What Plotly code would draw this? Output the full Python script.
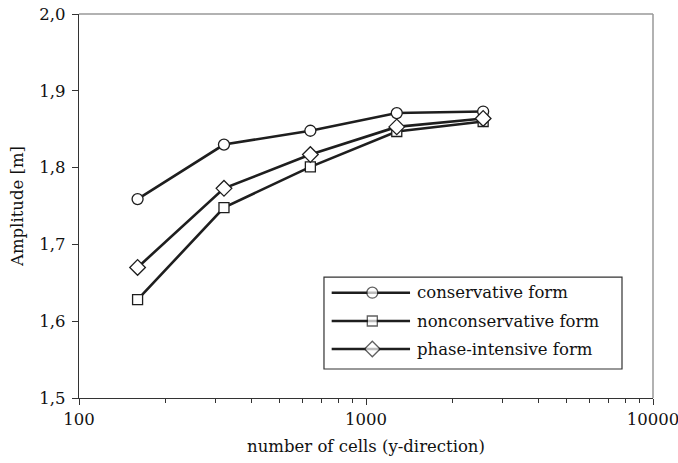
import plotly.graph_objects as go

# grid resolution (cells in y-direction)
cells = [160, 320, 640, 1280, 2560]

# wave amplitude [m] for each discretisation form
conservative = [1.759, 1.830, 1.848, 1.871, 1.873]
nonconservative = [1.628, 1.748, 1.801, 1.847, 1.860]
phase_intensive = [1.670, 1.773, 1.817, 1.853, 1.864]

series_names = ["conservative form", "nonconservative form", "phase-intensive form"]
series_values = [conservative, nonconservative, phase_intensive]
symbols = ["circle", "square", "diamond"]
marker_sizes = [11, 10, 12]

y_ticks = [1.5, 1.6, 1.7, 1.8, 1.9, 2.0]
y_ticktext = ["1,5", "1,6", "1,7", "1,8", "1,9", "2,0"]
x_ticks = [100, 1000, 10000]
x_ticktext = ["100", "1000", "10000"]
x_minor = [200, 300, 400, 500, 600, 700, 800, 900,
           2000, 3000, 4000, 5000, 6000, 7000, 8000, 9000]

INK = "#1e1e1e"
FONT = dict(family="DejaVu Serif", size=16.5, color="#111")

fig = go.Figure()

for name, vals, sym, ms in zip(series_names, series_values, symbols, marker_sizes):
    fig.add_trace(go.Scatter(
        x=cells, y=vals, mode="lines+markers", name=name,
        line=dict(color=INK, width=2.6),
        marker=dict(symbol=sym, size=ms, color="white",
                    line=dict(color=INK, width=1.3)),
        showlegend=False,
    ))

# legend box drawn on an overlay axis spanning the plot area
box_x0, box_x1, box_y0, box_y1 = 0.4268, 0.946, 0.0755, 0.315
row_y = [0.2742, 0.2005, 0.1276]
sample_x = [0.4402, 0.5110, 0.5767]
text_x = 0.585

for name, sym, ms, ry in zip(series_names, symbols, marker_sizes, row_y):
    fig.add_trace(go.Scatter(
        x=sample_x, y=[ry] * 3, xaxis="x2", yaxis="y2",
        mode="lines+markers", showlegend=False, hoverinfo="skip",
        line=dict(color=INK, width=2.6),
        marker=dict(symbol=sym, size=[0, ms, 0], color="white",
                    line=dict(color=INK, width=1.3)),
    ))
    fig.add_annotation(x=text_x, y=ry, xref="x2", yref="y2", text=name,
                       showarrow=False, xanchor="left", yanchor="middle",
                       font=FONT)

fig.add_shape(type="rect", xref="x2", yref="y2",
              x0=box_x0, x1=box_x1, y0=box_y0, y1=box_y1,
              line=dict(color="#333", width=1.2), fillcolor="rgba(0,0,0,0)")

# light frame on top and right
fig.add_shape(type="line", xref="paper", yref="paper", x0=0, x1=1, y0=1, y1=1,
              line=dict(color="#999", width=1.5))
fig.add_shape(type="line", xref="paper", yref="paper", x0=1, x1=1, y0=0, y1=1,
              line=dict(color="#999", width=1.5))

fig.update_layout(
    width=678, height=463,
    margin=dict(l=79, r=25, t=14, b=65, autoexpand=False),
    paper_bgcolor="white", plot_bgcolor="white",
    font=FONT,
    xaxis=dict(
        type="log", range=[2, 4], automargin=False,
        tickvals=x_ticks, ticktext=x_ticktext,
        ticks="outside", ticklen=6, tickwidth=1, tickcolor="#333",
        ticklabeloverflow="allow",
        minor=dict(tickvals=x_minor, ticks="outside", ticklen=4,
                   tickwidth=1, tickcolor="#333", showgrid=False),
        showline=True, linecolor="#333", linewidth=1.3,
        showgrid=False, zeroline=False,
        title=dict(text="number of cells (y-direction)", font=FONT, standoff=12),
        tickfont=FONT,
    ),
    yaxis=dict(
        range=[1.5, 2.0], automargin=False,
        tickvals=y_ticks, ticktext=y_ticktext,
        ticks="outside", ticklen=6, tickwidth=1, tickcolor="#333",
        ticklabelstandoff=3,
        showline=True, linecolor="#333", linewidth=1.3,
        showgrid=False, zeroline=False,
        title=dict(text="Amplitude [m]", font=FONT, standoff=11),
        tickfont=FONT,
    ),
    xaxis2=dict(overlaying="x", range=[0, 1], visible=False, fixedrange=True),
    yaxis2=dict(overlaying="y", range=[0, 1], visible=False, fixedrange=True),
    showlegend=False,
)

fig.write_html("out.html")
